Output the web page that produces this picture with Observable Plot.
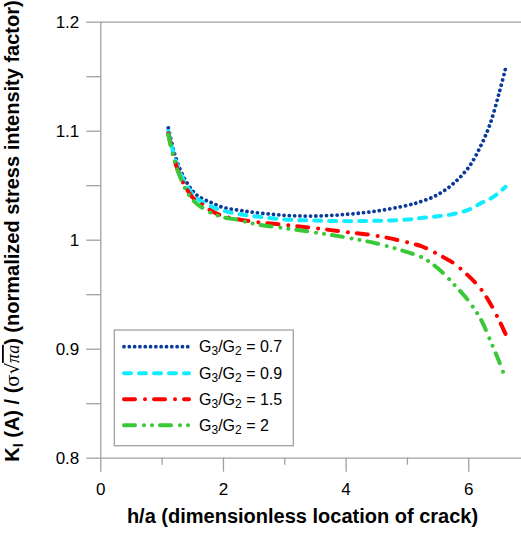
<!DOCTYPE html>
<html><head><meta charset="utf-8">
<script src="https://cdn.jsdelivr.net/npm/d3@7"></script>
<script src="https://cdn.jsdelivr.net/npm/@observablehq/plot@0.6"></script>
<style>
html,body{margin:0;padding:0;background:#fff;}
#chart{position:relative;width:521px;height:533px;overflow:hidden;}
</style></head><body><div id="chart"></div>
<script>
// h/a values (dimensionless location of crack)
const hOverA = [1.1,1.2,1.3,1.4,1.5,1.6,1.8,2.0,2.25,2.5,3.0,3.5,4.0,4.5,5.0,5.25,5.5,5.75,6.0,6.2,6.35,6.5,6.6];
// normalized K_I for each G3/G2 ratio
const kRatio07 = [1.103,1.080,1.064,1.053,1.045,1.040,1.0345,1.030,1.0275,1.0255,1.0228,1.0222,1.0237,1.0268,1.032,1.036,1.042,1.052,1.067,1.087,1.107,1.136,1.1575];
const kRatio09 = [1.100,1.077,1.061,1.050,1.042,1.037,1.031,1.027,1.024,1.022,1.019,1.018,1.0175,1.0178,1.019,1.0205,1.022,1.024,1.028,1.034,1.038,1.044,1.049];
const kRatio15 = [1.098,1.074,1.058,1.047,1.039,1.035,1.027,1.022,1.019,1.017,1.014,1.011,1.0075,1.004,0.998,0.994,0.987,0.979,0.967,0.955,0.942,0.926,0.914];
const kRatio20 = [1.097,1.073,1.057,1.045,1.037,1.032,1.025,1.021,1.0185,1.015,1.011,1.007,1.0025,0.997,0.989,0.984,0.974,0.960,0.944,0.927,0.908,0.888,0.873];
const ratioLabels = ["0.7","0.9","1.5","2"];
const yTicksMajor = [0.8,0.9,1.0,1.1,1.2];
const yTicksMinor = [0.85,0.95,1.05,1.15];
const xTicksMajor = [0,2,4,6];
const xTicksMinor = [1,3,5];

const styles = [
  {values:kRatio07, stroke:"#0a3a9c", dash:"0.01 5.3", width:3.8},
  {values:kRatio09, stroke:"#12ecff", dash:"7 8", width:4},
  {values:kRatio15, stroke:"#ff0000", dash:"11 10 0.01 9", width:4},
  {values:kRatio20, stroke:"#38c838", dash:"11 9 0.01 8 0.01 8", width:4}
];

const gray = "#a0a0a0";
const lineMarks = styles.map((s, i) => {
  const rows = hOverA.map((x, j) => ({x, y: s.values[j]}));
  return Plot.line(rows, {x:"x", y:"y", stroke:s.stroke, strokeWidth:s.width,
    strokeDasharray:s.dash, strokeLinecap:"round", strokeLinejoin:"round", curve:"catmull-rom"});
});

const fmt = d => { const v = Math.round(d*10)/10; return String(v); };

const plot = Plot.plot({
  width:521, height:533,
  marginLeft:100.3, marginRight:0, marginTop:21.7, marginBottom:75.3,
  style:{fontFamily:"'Liberation Sans', Arial, sans-serif", fontSize:"17px", color:"#000", background:"#fff"},
  x:{domain:[0,6.86]},
  y:{domain:[0.8,1.2]},
  marks:[
    Plot.ruleY([0.8,1.2], {stroke:gray, strokeWidth:1.3}),
    Plot.ruleX([0], {y1:0.8, y2:1.2, stroke:gray, strokeWidth:1.3}),
    Plot.axisY({ticks:yTicksMajor, tickSize:14, tickPadding:7.5, tickFormat:fmt, stroke:gray, strokeWidth:1.3, fill:"#000", label:null}),
    Plot.axisY({ticks:yTicksMinor, tickSize:14, tickFormat:()=>"", stroke:gray, strokeWidth:1.3, label:null}),
    Plot.axisX({ticks:xTicksMajor, tickSize:14, tickPadding:11, tickFormat:fmt, stroke:gray, strokeWidth:1.3, fill:"#000", label:null}),
    Plot.axisX({ticks:xTicksMinor, tickSize:7, tickFormat:()=>"", stroke:gray, strokeWidth:1.3, label:null}),
    ...lineMarks
  ]
});
document.getElementById("chart").appendChild(plot);

const svg = d3.select(plot);
// y-axis title
const yl = svg.append("text")
  .attr("transform","translate(19,231) rotate(-90)")
  .attr("text-anchor","middle")
  .attr("font-family","'Liberation Sans', Arial, sans-serif")
  .attr("font-weight","bold")
  .attr("font-size",20)
  .attr("fill","#000");
yl.append("tspan").text("K");
yl.append("tspan").attr("font-size",14).attr("dy",4).text("I");
yl.append("tspan").attr("dy",-4).text(" (A) / (");
yl.append("tspan").attr("font-family","'DejaVu Serif','Liberation Serif',serif").attr("font-weight","normal").attr("font-size",18).text("σ√");
yl.append("tspan").attr("font-family","'Liberation Serif',serif").attr("font-style","italic").attr("font-weight","normal").attr("font-size",18).attr("text-decoration","overline").text("πa");
yl.append("tspan").text(") (normalized stress intensity factor)");

// x-axis title
svg.append("text")
  .attr("x",302.5).attr("y",522.5)
  .attr("text-anchor","middle")
  .attr("font-family","'Liberation Sans', Arial, sans-serif")
  .attr("font-weight","bold")
  .attr("font-size",20)
  .attr("fill","#000")
  .text("h/a (dimensionless location of crack)");

// legend
const lg = svg.append("g");
lg.append("rect").attr("x",114.3).attr("y",330).attr("width",179).attr("height",115.7)
  .attr("fill","#fff").attr("stroke",gray).attr("stroke-width",1.3);
const rowY = [346.7, 373.3, 399.3, 425.3];
styles.forEach((s, i) => {
  lg.append("line").attr("x1",124).attr("x2",189).attr("y1",rowY[i]).attr("y2",rowY[i])
    .attr("stroke",s.stroke).attr("stroke-width",s.width).attr("stroke-dasharray",s.dash)
    .attr("stroke-linecap","round");
  const t = lg.append("text").attr("x",199).attr("y",rowY[i]+5.5)
    .attr("text-anchor","start")
    .attr("font-family","'Liberation Sans', Arial, sans-serif")
    .attr("font-size",16).attr("fill","#000");
  t.append("tspan").text("G");
  t.append("tspan").attr("font-size",12).attr("dy",3).text("3");
  t.append("tspan").attr("dy",-3).text("/G");
  t.append("tspan").attr("font-size",12).attr("dy",3).text("2");
  t.append("tspan").attr("dy",-3).text(" = " + ratioLabels[i]);
});
</script>
</body></html>
